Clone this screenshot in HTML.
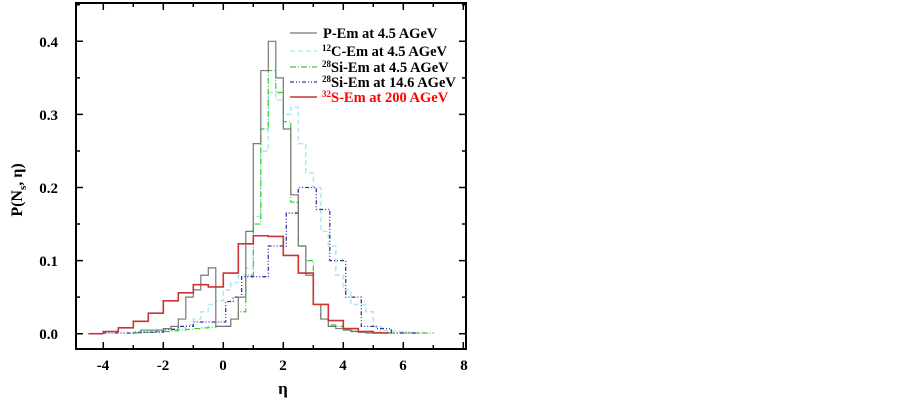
<!DOCTYPE html>
<html><head><meta charset="utf-8"><style>
body{margin:0;background:#fff;width:902px;height:401px;overflow:hidden}
text{font-family:"Liberation Serif",serif}
</style></head><body>
<svg id="s" width="902" height="401" xmlns="http://www.w3.org/2000/svg">
<rect x="76" y="3" width="390" height="346" fill="none" stroke="#000" stroke-width="2"/>
<g id="ticks" stroke="#000" stroke-width="1.5"></g>
<g id="series" fill="none"></g>
<g font-size="15" font-weight="bold" text-anchor="end">
<text x="58" y="339">0.0</text><text x="58" y="266">0.1</text><text x="58" y="193">0.2</text><text x="58" y="120">0.3</text><text x="58" y="47">0.4</text>
</g>
<g font-size="15" font-weight="bold" text-anchor="middle">
<text x="103" y="370">-4</text><text x="163" y="370">-2</text><text x="223" y="370">0</text><text x="283" y="370">2</text><text x="343" y="370">4</text><text x="403" y="370">6</text><text x="464" y="370">8</text>
<text x="283" y="394" font-size="17">η</text>
</g>
<text transform="translate(22,190) rotate(-90)" font-size="16" font-weight="bold" text-anchor="middle">P(N<tspan font-size="11" dy="4">s</tspan><tspan dy="-4">, η)</tspan></text>
<g font-size="14.5" font-weight="bold">
<line x1="290" y1="33" x2="317" y2="33" stroke="#777" stroke-width="1.2"/>
<text x="323" y="38">P-Em at 4.5 AGeV</text>
<line x1="290" y1="51" x2="317" y2="51" stroke="#aee8f0" stroke-width="1.5" stroke-dasharray="5,3"/>
<text x="322" y="56"><tspan font-size="9" dy="-5">12</tspan><tspan dy="5">C-Em at 4.5 AGeV</tspan></text>
<line x1="290" y1="67" x2="317" y2="67" stroke="#3c3" stroke-width="1.2" stroke-dasharray="6,2,1,2"/>
<text x="322" y="72"><tspan font-size="9" dy="-5">28</tspan><tspan dy="5">Si-Em at 4.5 AGeV</tspan></text>
<line x1="290" y1="82" x2="317" y2="82" stroke="#33a" stroke-width="1.2" stroke-dasharray="4,2,1,2,1,2"/>
<text x="322" y="87"><tspan font-size="9" dy="-5">28</tspan><tspan dy="5">Si-Em at 14.6 AGeV</tspan></text>
<line x1="290" y1="97" x2="317" y2="97" stroke="#c33" stroke-width="1.6"/>
<text x="322" y="102" fill="#f00"><tspan font-size="9" dy="-5">32</tspan><tspan dy="5">S-Em at 200 AGeV</tspan></text>
</g>
</svg>
<script>
const X=v=>223.3+30*v, Y=p=>333.7-731*p;
const ns="http://www.w3.org/2000/svg";
let t=document.getElementById('ticks'),d='';
for(let v=-4;v<=8;v+=1){let l=v%2==0?7:4;d+=`M${X(v)} 349v-${l}M${X(v)} 3v${l}`;}
for(let p=0;p<=0.451;p+=0.05){let l=Math.round(p*100)%10==0?7:4;d+=`M76 ${Y(p)}h${l}M466 ${Y(p)}h-${l}`;}
let tp=document.createElementNS(ns,'path');tp.setAttribute('d',d);t.appendChild(tp);
function S(edges,vals,col,w,dash){let p=`M${X(edges[0])} ${Y(0)}`;for(let i=0;i<vals.length;i++){p+=`V${Y(vals[i])}H${X(edges[i+1])}`;}p+=`V${Y(0)}`;
let e=document.createElementNS(ns,'path');e.setAttribute('d',p);e.setAttribute('stroke',col);e.setAttribute('stroke-width',w);if(dash)e.setAttribute('stroke-dasharray',dash);document.getElementById('series').appendChild(e);}
function q(a,b,vals){let e=[];for(let i=0;i<=vals.length;i++)e.push(a+i*b);return e;}
let cv=[0.002,0.002,0.003,0.004,0.005,0.006,0.008,0.012,0.02,0.03,0.04,0.045,0.06,0.07,0.08,0.09,0.16,0.25,0.33,0.32,0.3,0.31,0.26,0.22,0.2,0.14,0.12,0.08,0.06,0.04,0.04,0.03,0.01,0.004,0.004,0.003,0.002,0.001];
S(q(-3,0.25,cv),cv,'#aee8f0',1.5,'5,3');
let gv=[0.001,0.002,0.002,0.003,0.003,0.004,0.005,0.006,0.007,0.008,0.009,0.01,0.01,0.02,0.03,0.08,0.15,0.28,0.36,0.33,0.29,0.18,0.12,0.1,0.04,0.02,0.012,0.01,0.005,0.004,0.003,0.003,0.002,0.001,0.001,0.001,0.001,0.001,0.001,0.001];
S(q(-3,0.25,gv),gv,'#3c3',1.2,'6,2,1,2');
S([-4,-3,-2,-1.5,-1,0.08,0.33,0.61,1.5,2.1,2.5,3.1,3.55,4.08,4.6,5.1,5.6,6.5],[0.001,0.002,0.006,0.01,0.016,0.044,0.05,0.078,0.12,0.165,0.2,0.17,0.1,0.05,0.01,0.007,0.001],'#33a',1.3,'4,2,1,2,1,2');
let gr=[0.005,0.005,0.005,0.007,0.01,0.02,0.05,0.06,0.08,0.09,0.01,0.01,0.02,0.05,0.14,0.26,0.36,0.4,0.35,0.28,0.19,0.12,0.08,0.04,0.02,0.01,0.007,0.005,0.003,0.002,0.001];
S(q(-2.75,0.25,gr),gr,'#777',1.2);
let rv=[0.003,0.008,0.017,0.028,0.045,0.056,0.067,0.064,0.083,0.123,0.134,0.133,0.107,0.083,0.04,0.018,0.007,0.003,0.001];
S(q(-4,0.5,rv),rv,'#c33',1.6);
let base=document.createElementNS(ns,'path');base.setAttribute('d',`M${X(-4.5)} ${Y(0)}H${X(-4)}`);base.setAttribute('stroke','#c33');base.setAttribute('stroke-width',1.6);document.getElementById('series').appendChild(base);
</script>
</body></html>
